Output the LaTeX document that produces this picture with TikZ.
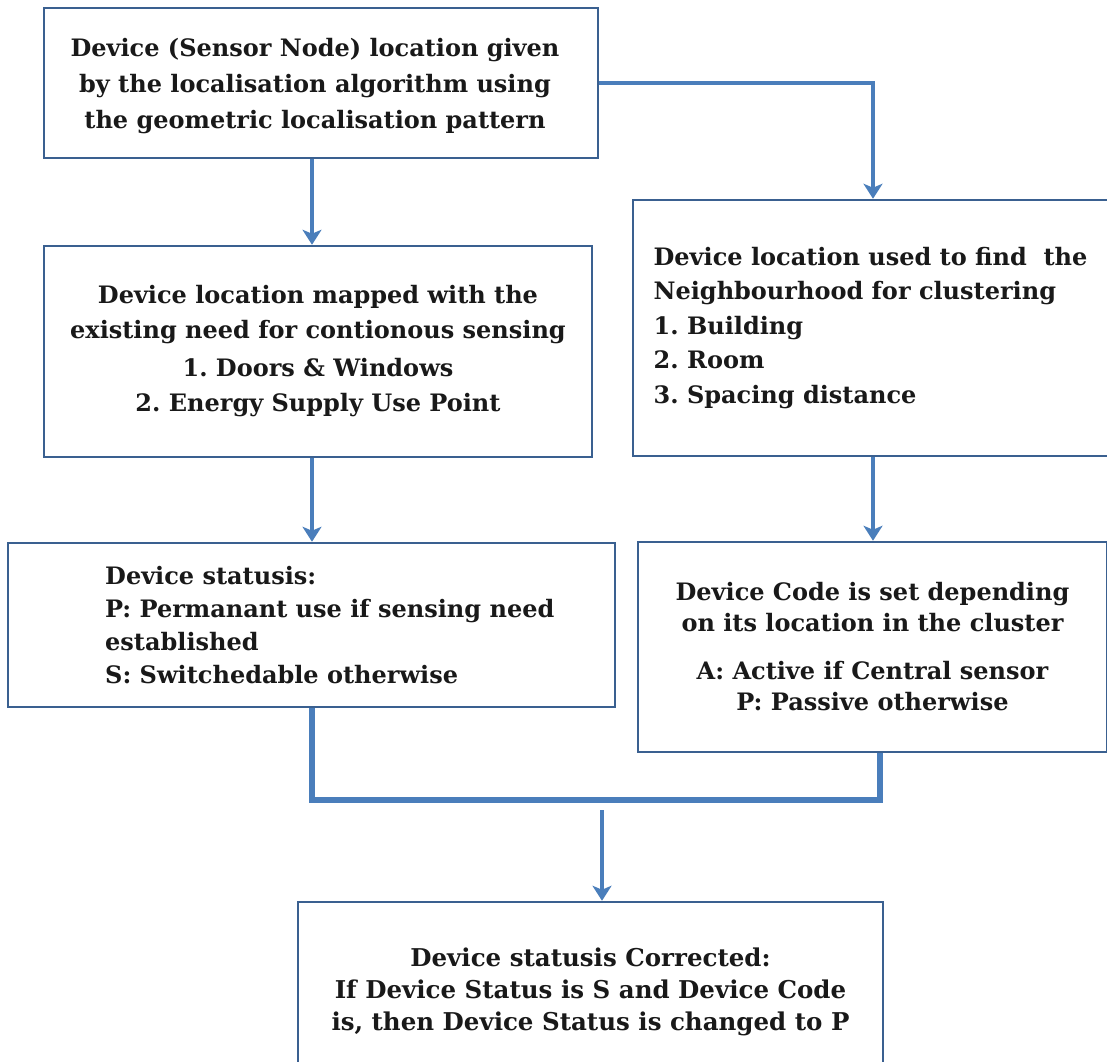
\documentclass[tikz,border=0pt]{standalone}
\usepackage{fontspec}
\setmainfont{DejaVu Serif}
\usetikzlibrary{arrows.meta,calc}
\definecolor{arrblue}{HTML}{4A7EBB}
\definecolor{boxblue}{HTML}{3A6090}
\frenchspacing
\begin{document}
\begin{tikzpicture}[x=1pt,y=-1pt,
  boxstyle/.style={draw=boxblue,line width=2.5pt,fill=white,inner sep=0pt,
    font=\bfseries\fontsize{24}{36}\selectfont,text=black!90},
  txtstyle/.style={inner sep=0pt,font=\bfseries\fontsize{24}{33}\selectfont,text=black!90,align=left},
  arr/.style={draw=arrblue,line width=4pt,-{Stealth[length=15pt,width=19pt,inset=4pt]}},
  joinline/.style={draw=arrblue,line width=5.5pt}]
\useasboundingbox (0,0) rectangle (1107,1061);
\clip (0,0) rectangle (1107,1061);
% boxes
\node[boxstyle,minimum width=554pt,minimum height=150pt] (b1) at (321,83) {};
\node[inner sep=0pt,align=center,font=\bfseries\fontsize{24}{36}\selectfont,text=black!90] (t1) at (315,86)
  {Device (Sensor Node) location given\\by the localisation algorithm using\\the geometric localisation pattern};
\node[boxstyle,minimum width=548pt,minimum height=211pt,align=center,
  font=\bfseries\fontsize{24}{35}\selectfont] (b2) at (318,351.5)
  {Device location mapped with the\\existing need for contionous sensing\\[3pt]1. Doors \& Windows\\2. Energy Supply Use Point};
\node[boxstyle,minimum width=475pt,minimum height=256pt,align=left,
  font=\bfseries\fontsize{24}{34.5}\selectfont] (b3) at (870.5,328)
  {Device location used to find\ \ the\\Neighbourhood for clustering\\1. Building\\2. Room\\3. Spacing distance};
\node[boxstyle,minimum width=607pt,minimum height=164pt] (bl) at (311.5,625) {};
\node[txtstyle,anchor=west] (tl) at (105,625)
  {Device statusis:\\P: Permanant use if sensing need\\established\\S: Switchedable otherwise};
\node[boxstyle,minimum width=469pt,minimum height=210pt,align=center,
  font=\bfseries\fontsize{24}{31}\selectfont] (b4) at (872.5,647)
  {Device Code is set depending\\on its location in the cluster\\[17pt]A: Active if Central sensor\\P: Passive otherwise};
\node[boxstyle,minimum width=585pt,minimum height=180pt,align=center,
  font=\bfseries\fontsize{24.5}{32}\selectfont] (b5) at (590.5,992)
  {Device statusis Corrected:\\If Device Status is S and Device Code\\is, then Device Status is changed to P};
% connectors
\draw[arr] ([xshift=-9pt]b1.south) -- ([xshift=-9pt]b1.south |- b2.north);
\draw[arr] (b1.east) -| ([xshift=2.5pt]b3.north);
\draw[arr] ([xshift=-6pt]b2.south) -- ([xshift=-6pt]b2.south |- bl.north);
\draw[arr] ([xshift=2.5pt]b3.south) -- ([xshift=2.5pt]b3.south |- b4.north);
\coordinate (jl) at (312,800);
\coordinate (m) at (602,810);
\draw[joinline] ([xshift=0.5pt]bl.south) -- ([xshift=0.5pt]bl.south |- jl) -| ([xshift=7.5pt]b4.south);
\draw[arr] (m) -- (m |- b5.north);
\end{tikzpicture}
\end{document}
